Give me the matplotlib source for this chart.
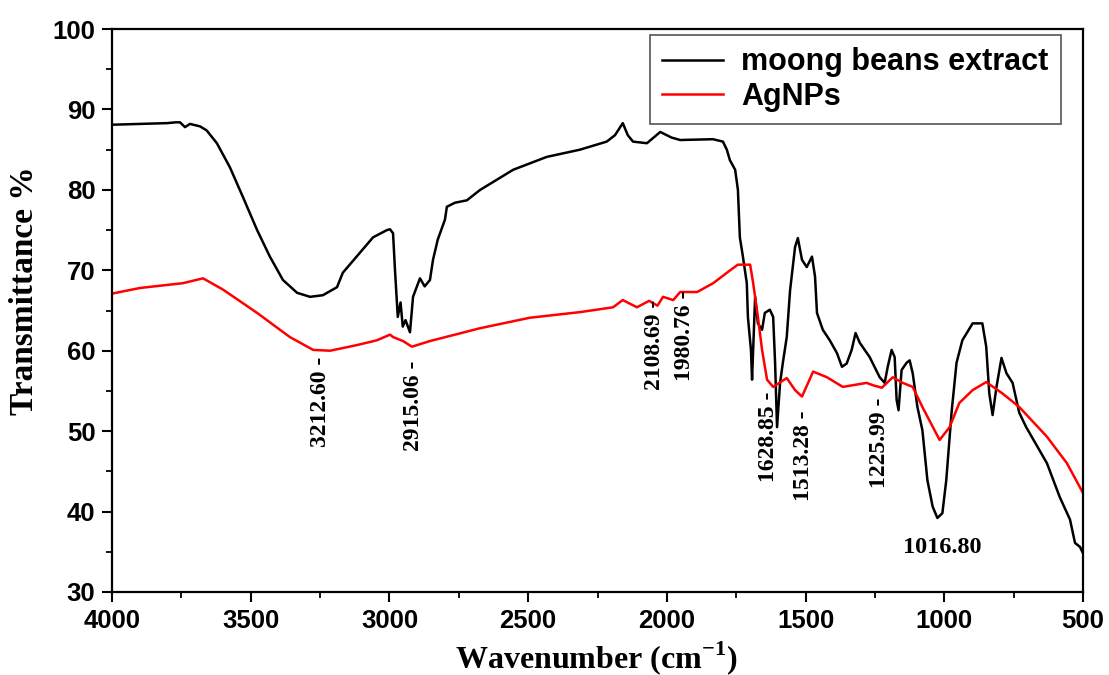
import matplotlib
matplotlib.use("Agg")
import matplotlib.pyplot as plt
from matplotlib.ticker import MultipleLocator

plt.rcParams['mathtext.fontset'] = 'custom'
plt.rcParams['mathtext.rm'] = 'Liberation Serif:bold'
plt.rcParams['mathtext.bf'] = 'Liberation Serif:bold'

# ---- data ----
moong_wn = [4000, 3900, 3800, 3770, 3755, 3737, 3719, 3683, 3659, 3622, 3575, 3528, 3477,
            3431, 3384, 3333, 3286, 3240, 3189, 3168, 3059, 3009, 2998, 2987, 2980, 2970,
            2960, 2952, 2942, 2926, 2915, 2890, 2873, 2854, 2843, 2826, 2800, 2793, 2764,
            2721, 2673, 2554, 2433, 2313, 2217, 2187, 2159, 2141, 2122, 2072, 2024, 1983,
            1952, 1834, 1798, 1784, 1773, 1754, 1744, 1737, 1726, 1712, 1708, 1697, 1693,
            1682, 1672, 1657, 1647, 1629, 1617, 1610, 1603, 1592, 1582, 1568, 1556, 1538,
            1528, 1513, 1496, 1477, 1466, 1459, 1438, 1413, 1387, 1369, 1352, 1334, 1320,
            1305, 1269, 1233, 1215, 1204, 1190, 1179, 1172, 1165, 1154, 1136, 1125, 1114,
            1097, 1079, 1061, 1042, 1025, 1007, 993, 974, 956, 935, 898, 863, 849, 838, 826,
            812, 794, 776, 754, 730, 705, 630, 584, 547, 529, 511, 500]
moong_t = [88.1, 88.2, 88.3, 88.4, 88.4, 87.8, 88.2, 87.9, 87.4, 85.8, 82.8, 79.1, 75.0,
           71.7, 68.8, 67.2, 66.7, 66.9, 67.9, 69.7, 74.1, 75.0, 75.1, 74.6, 70.0, 64.2,
           66.0, 63.0, 63.8, 62.3, 66.7, 69.0, 68.0, 68.8, 71.3, 73.8, 76.3, 77.9, 78.4,
           78.7, 80.0, 82.5, 84.1, 85.0, 86.0, 86.8, 88.3, 86.8, 86.0, 85.8, 87.2, 86.5,
           86.2, 86.3, 86.0, 85.0, 83.7, 82.5, 80.0, 74.1, 71.7, 68.4, 64.2, 60.1, 56.4,
           66.7, 63.4, 62.6, 64.7, 65.1, 64.2, 58.5, 50.5, 56.0, 58.5, 61.7, 67.5, 72.9,
           74.0, 71.3, 70.4, 71.7, 69.2, 64.7, 62.6, 61.3, 59.7, 58.0, 58.4, 60.1, 62.2,
           61.0, 59.2, 56.7, 56.0, 58.0, 60.1, 59.2, 53.9, 52.6, 57.6, 58.5, 58.8, 57.2,
           53.0, 50.1, 43.9, 40.6, 39.2, 39.8, 43.9, 52.3, 58.5, 61.3, 63.4, 63.4, 60.5,
           54.7, 52.0, 55.5, 59.1, 57.2, 56.0, 52.3, 50.5, 46.0, 41.8, 39.0, 36.1, 35.6, 34.8]

agnps_wn = [4000, 3899, 3744, 3672, 3600, 3477, 3359, 3275, 3214, 3117, 3045, 2998, 2987,
            2951, 2919, 2854, 2673, 2494, 2313, 2194, 2159, 2108, 2064, 2034, 2014, 1977,
            1952, 1891, 1833, 1772, 1744, 1700, 1689, 1672, 1657, 1639, 1617, 1568, 1538,
            1513, 1473, 1423, 1366, 1280, 1257, 1225, 1186, 1150, 1114, 1079, 1017, 981,
            946, 898, 849, 791, 730, 630, 558, 500]
agnps_t = [67.1, 67.8, 68.4, 69.0, 67.6, 64.7, 61.7, 60.1, 60.0, 60.7, 61.3, 62.0, 61.7,
           61.2, 60.5, 61.2, 62.8, 64.1, 64.8, 65.4, 66.3, 65.4, 66.2, 65.6, 66.7, 66.3,
           67.3, 67.3, 68.4, 70.0, 70.7, 70.7, 68.4, 64.2, 60.1, 56.4, 55.5, 56.6, 55.1,
           54.3, 57.4, 56.7, 55.5, 56.0, 55.7, 55.4, 56.7, 56.0, 55.5, 53.0, 48.9, 50.5,
           53.5, 55.1, 56.1, 54.7, 53.0, 49.3, 46.0, 42.3]

series_names = ["moong beans extract", "AgNPs"]

peak_labels = ["3212.60 -", "2915.06 -", "2108.69 -", "1980.76 -",
               "1628.85 -", "1513.28 -", "1225.99 -", "1016.80"]
# label anchor positions (wavenumber, transmittance of text top / centre)
label_x = [3250, 2915, 2046, 1938, 1635, 1509, 1232, 1008]
label_y = [59.2, 58.8, 66.3, 67.5, 54.9, 52.6, 54.2, 35.5]

# ---- figure ----
fig = plt.figure(figsize=(11.09, 6.75), dpi=100)
ax = fig.add_axes([0.101, 0.123, 0.8756, 0.834])

ax.plot(moong_wn, moong_t, color='black', lw=1.8, label=series_names[0])
ax.plot(agnps_wn, agnps_t, color='#ff0000', lw=1.8, label=series_names[1])

ax.set_xlim(4000, 500)
ax.set_ylim(30, 100)
ax.xaxis.set_major_locator(MultipleLocator(500))
ax.xaxis.set_minor_locator(MultipleLocator(250))
ax.yaxis.set_major_locator(MultipleLocator(10))
ax.yaxis.set_minor_locator(MultipleLocator(5))

for s in ax.spines.values():
    s.set_linewidth(1.6)
ax.tick_params(which='major', direction='out', length=7, width=1.5, labelsize=18.5, pad=5)
ax.tick_params(which='minor', direction='out', length=4, width=1.3)
for lab in ax.get_xticklabels() + ax.get_yticklabels():
    lab.set_fontfamily('Liberation Sans')
    lab.set_fontweight('bold')

ax.set_xlabel(r'Wavenumber (cm$^{\mathbf{-1}}$)', fontfamily='Liberation Serif',
              fontweight='bold', fontsize=23)
ax.xaxis.set_label_coords(0.499, -0.084)
ax.set_ylabel('Transmittance %', fontfamily='Liberation Serif', fontweight='bold',
              fontsize=24)
ax.yaxis.set_label_coords(-0.074, 0.536)

for txt, lx, ly in zip(peak_labels, label_x, label_y):
    if txt.endswith('-'):
        ax.text(lx, ly, txt, rotation=90, ha='center', va='top', fontsize=17,
                fontfamily='Liberation Serif', fontweight='bold')
    else:
        ax.text(lx, ly, txt, ha='center', va='center', fontsize=17.5,
                fontfamily='Liberation Serif', fontweight='bold')

leg = ax.legend(loc='upper right', bbox_to_anchor=(0.977, 0.989), borderaxespad=0,
                prop={'family': 'Liberation Sans', 'weight': 'bold', 'size': 22},
                frameon=True, fancybox=False, edgecolor='#555555', framealpha=1,
                handlelength=2.0, handletextpad=0.6, labelspacing=0.15,
                borderpad=0.4)
leg.get_frame().set_linewidth(1.2)

fig.savefig('out.png', dpi=100)
